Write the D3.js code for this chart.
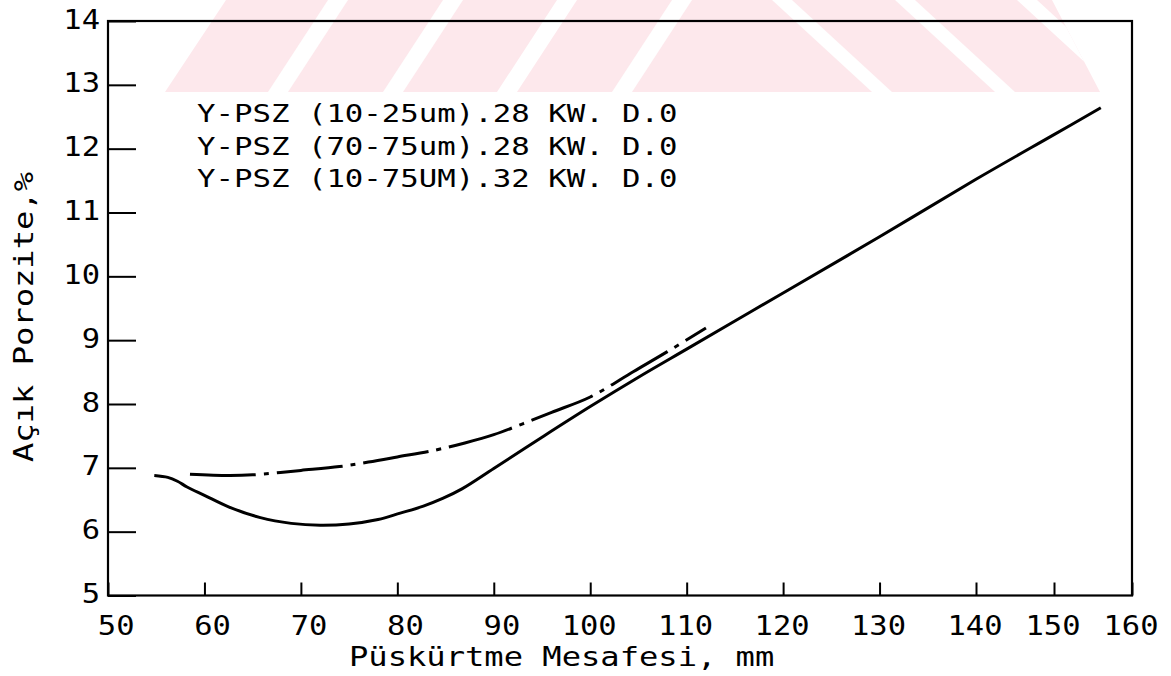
<!DOCTYPE html>
<html lang="tr">
<head>
    <meta charset="UTF-8">
    <title>Porozite</title>
    <style>
        body { margin: 0; background: #fff; }
        text { font-family: "DejaVu Sans Mono", monospace; fill: #000; }
    </style>
</head>
<body>

<script src="https://d3js.org/d3.v7.min.js"></script>
<script>
    var xTicks = [50, 60, 70, 80, 90, 100, 110, 120, 130, 140, 150, 160];
    var yTicks = [5, 6, 7, 8, 9, 10, 11, 12, 13, 14];

    var legendLabels = [
        "Y-PSZ (10-25um).28 KW. D.0",
        "Y-PSZ (70-75um).28 KW. D.0",
        "Y-PSZ (10-75UM).32 KW. D.0"
    ];

    // solid curve
    var solidX = [54.8, 56.2, 57.2, 58.2, 60, 62.5, 65.8, 69, 72, 75, 78, 80.3, 82.7, 84.7, 86.7, 90, 95, 100, 105, 110, 115, 120, 130, 140, 150, 156];
    var solidY = [6.88, 6.85, 6.79, 6.70, 6.57, 6.39, 6.22, 6.13, 6.10, 6.12, 6.19, 6.29, 6.40, 6.52, 6.67, 6.99, 7.48, 7.96, 8.42, 8.86, 9.30, 9.74, 10.62, 11.52, 12.22, 12.64];

    // dash-dot curve
    var dashX = [58.5, 62.5, 65, 70, 74, 77, 80, 84, 87, 90, 93, 96, 100, 104.5, 108, 112];
    var dashY = [6.90, 6.88, 6.89, 6.96, 7.02, 7.09, 7.17, 7.28, 7.39, 7.52, 7.69, 7.87, 8.11, 8.51, 8.82, 9.19];

    var width = 1171, height = 676;
    var stretch = 1.13; // plotter font is wider than DejaVu

    var svg = d3.select('body')
                .append('svg')
                .attr('width', width)
                .attr('height', height);

    // faint watermark at the top
    var defs = svg.append('defs');
    defs.append('clipPath').attr('id', 'wm')
        .append('polygon').attr('points', '165,92 226,0 1052,0 1100,92');
    var wm = svg.append('g').attr('clip-path', 'url(#wm)');
    wm.append('rect')
        .attr('x', 0).attr('y', 0).attr('width', width).attr('height', 92)
        .attr('fill', '#fde8ec');
    [268, 383, 497, 612].forEach(function(b) {
        wm.append('polygon')
            .attr('points', [[b, 92], [b + 20, 92], [b + 80, 0], [b + 60, 0]].join(' '))
            .attr('fill', '#fff');
    });
    [772, 895, 1017].forEach(function(t) {
        wm.append('polygon')
            .attr('points', [[t, 0], [t + 20, 0], [t + 120, 92], [t + 100, 92]].join(' '))
            .attr('fill', '#fff');
    });

    // the original x axis is squeezed past 140
    var x = d3.scaleLinear()
                .domain([50, 140, 160])
                .range([108, 976, 1132]);
    var y = d3.scaleLinear()
                .domain([5, 14])
                .range([595.5, 21]);

    var xAxis = d3.axisBottom(x)
                .tickValues(xTicks)
                .tickSize(-13)
                .tickPadding(20)
                .tickFormat(d3.format('d'));
    var yAxis = d3.axisLeft(y)
                .tickValues(yTicks)
                .tickSize(-28)
                .tickPadding(8)
                .tickFormat(d3.format('d'));

    var gx = svg.append('g')
        .attr('transform', 'translate(0,' + y(5) + ')')
        .call(xAxis);
    var gy = svg.append('g')
        .attr('transform', 'translate(' + x(50) + ',0)')
        .call(yAxis);

    [gx, gy].forEach(function(g) {
        g.select('.domain').remove();
        g.selectAll('line').attr('stroke', '#000').attr('stroke-width', 2);
        g.selectAll('text')
            .style('font-family', '"DejaVu Sans Mono", monospace')
            .style('font-size', '27px')
            .attr('transform', 'scale(' + stretch + ',1)')
            .attr('fill', '#000');
    });
    // labels sit right-aligned in a three character field
    gx.selectAll('text').attr('text-anchor', 'end').attr('x', 26 / stretch);
    gy.selectAll('text').attr('x', -8 / stretch).attr('dy', '0.26em');

    // frame
    svg.append('rect')
        .attr('x', x(50)).attr('y', y(14))
        .attr('width', x(160) - x(50)).attr('height', y(5) - y(14))
        .attr('fill', 'none').attr('stroke', '#000').attr('stroke-width', 2.2);

    var line = d3.line()
        .x(function(d) { return x(d[0]); })
        .y(function(d) { return y(d[1]); })
        .curve(d3.curveCatmullRom.alpha(0.5));

    svg.append('path')
        .datum(d3.zip(solidX, solidY))
        .attr('d', line)
        .attr('fill', 'none').attr('stroke', '#000').attr('stroke-width', 3);

    svg.append('path')
        .datum(d3.zip(dashX, dashY))
        .attr('d', line)
        .attr('fill', 'none').attr('stroke', '#000').attr('stroke-width', 3)
        .attr('stroke-dasharray', '66,8,5,8');

    // legend text
    svg.append('g').selectAll('text')
        .data(legendLabels)
        .enter().append('text')
        .attr('transform', function(d, i) { return 'translate(197,' + (122 + i * 32.5) + ') scale(1.28,1)'; })
        .style('font-size', '24px')
        .text(function(d) { return d; });

    // axis titles
    svg.append('text')
        .attr('transform', 'translate(349,666) scale(1.19,1)')
        .style('font-size', '27px')
        .text('Püskürtme Mesafesi, mm');

    svg.append('text')
        .attr('transform', 'translate(33,317) rotate(-90) scale(1.19,1)')
        .attr('text-anchor', 'middle')
        .style('font-size', '27px')
        .text('Açık Porozite,%');
</script>
</body>
</html>
